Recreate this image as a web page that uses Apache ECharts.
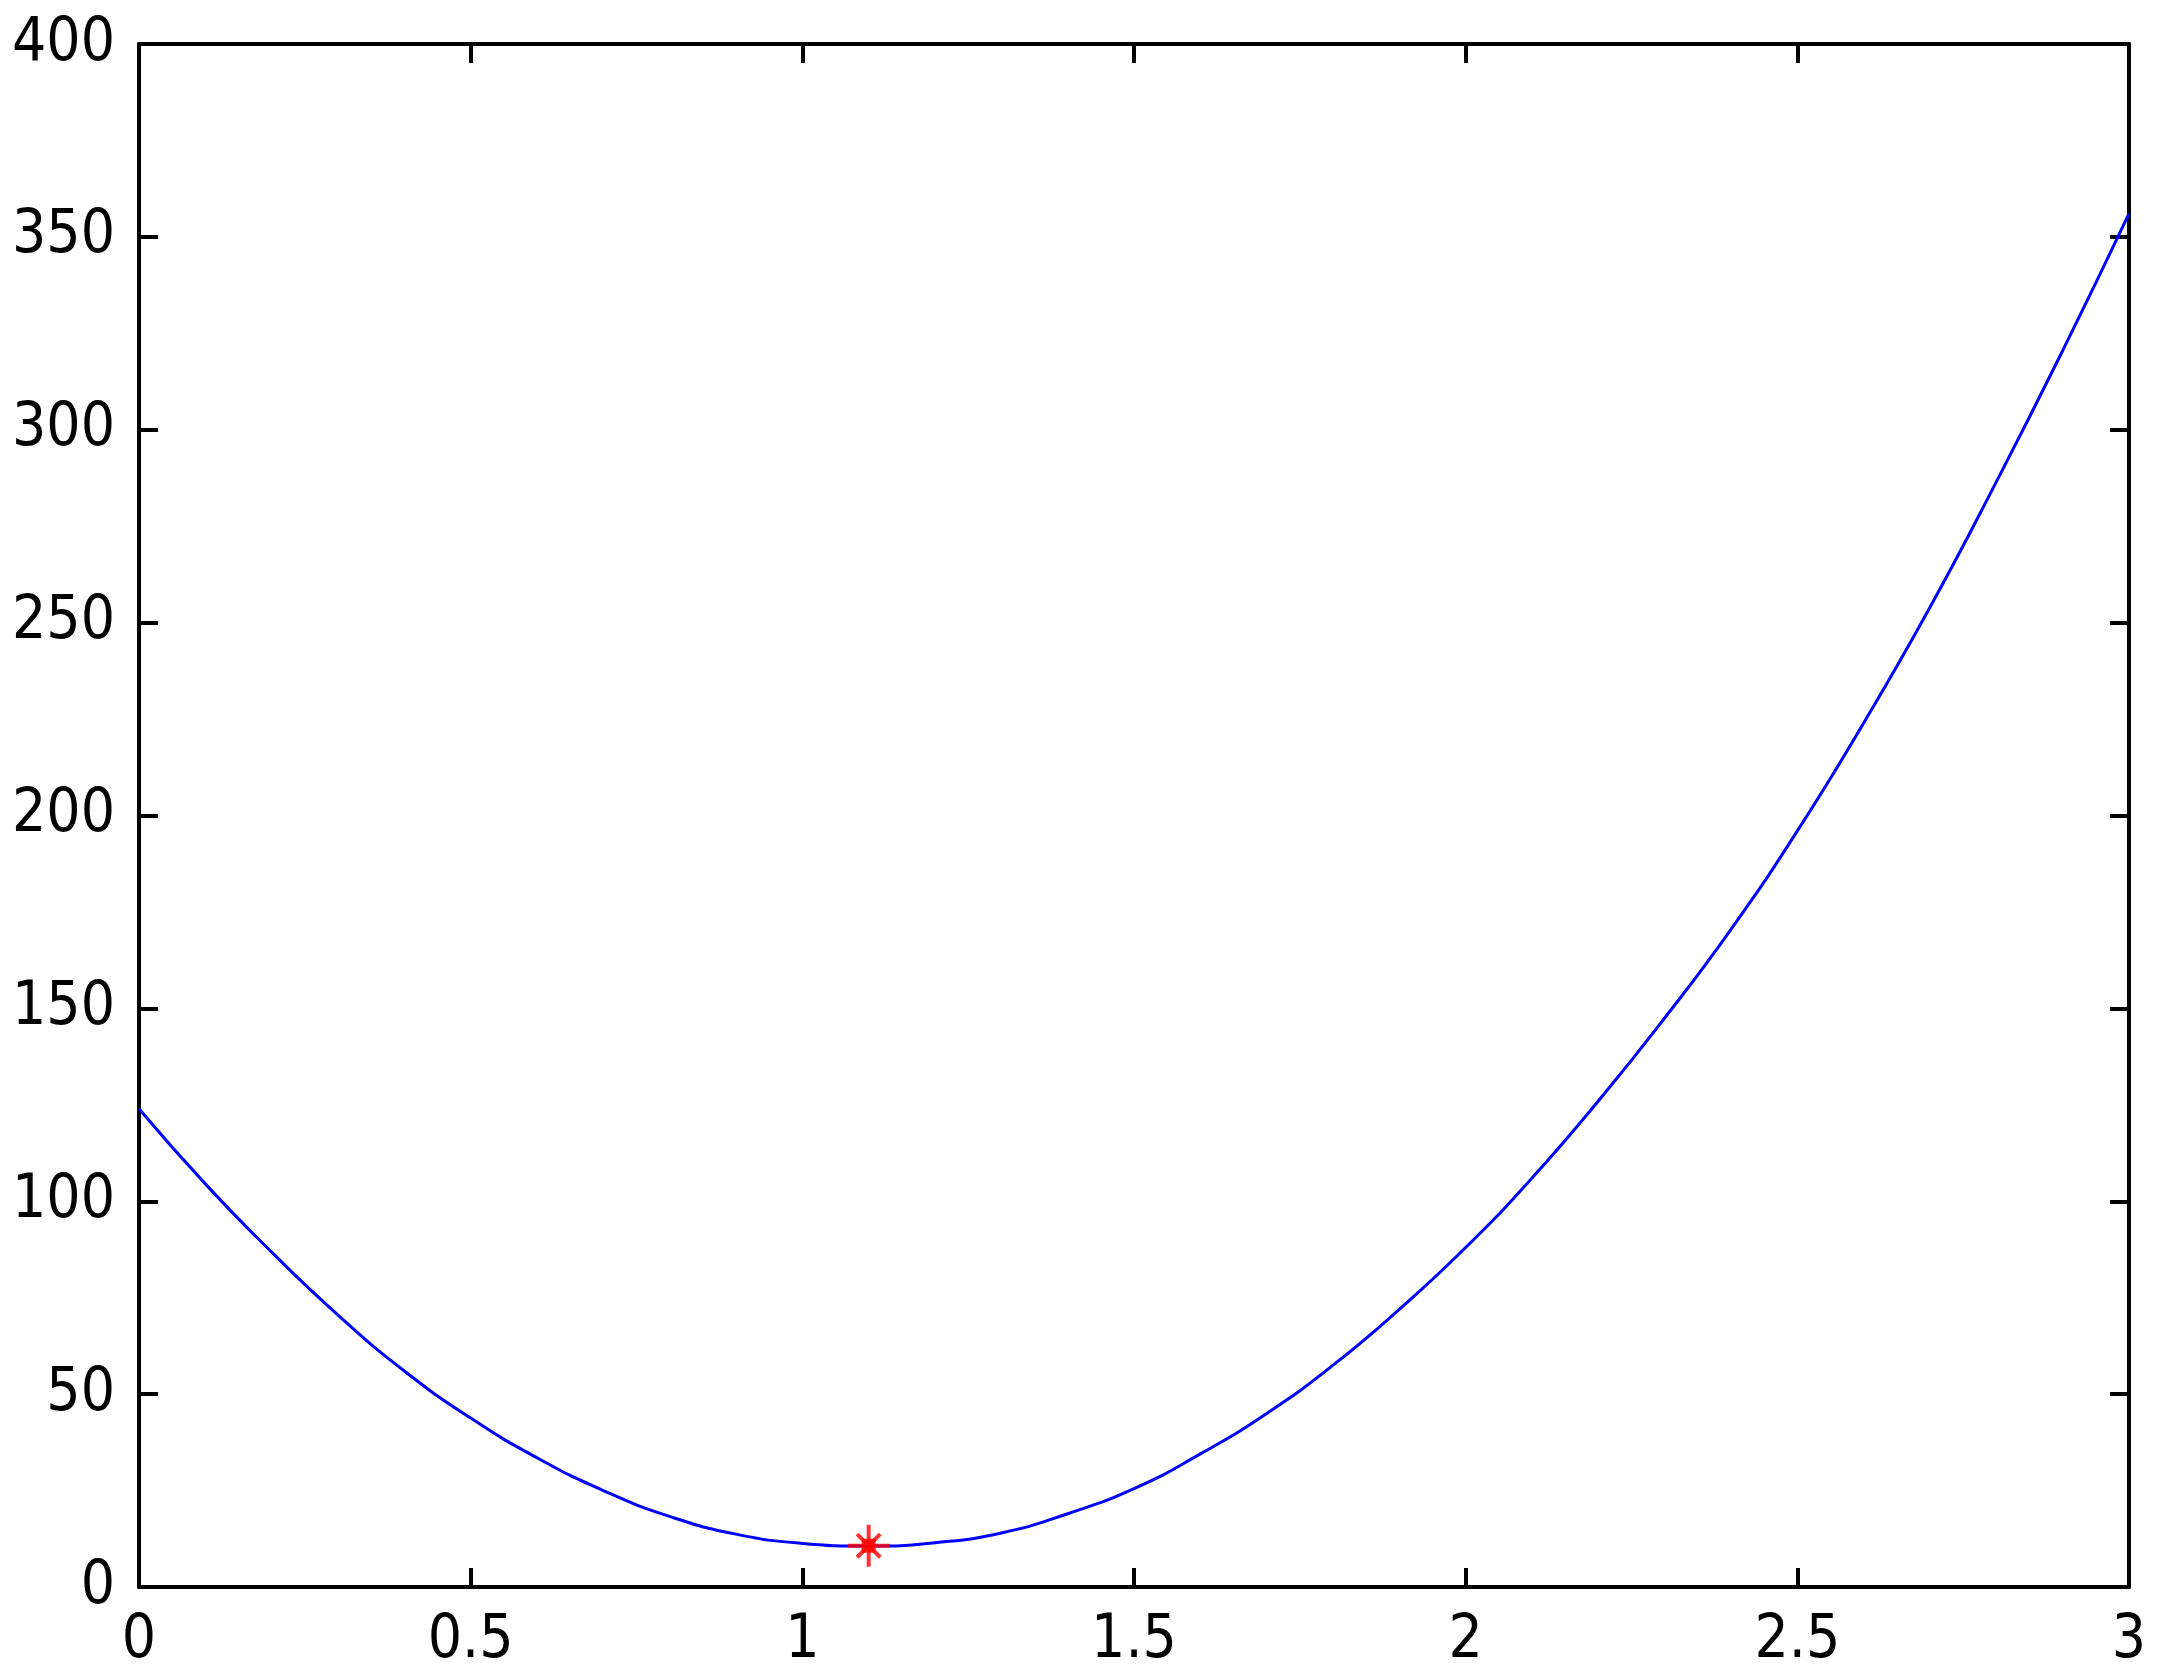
<!DOCTYPE html>
<html>
<head>
<meta charset="utf-8">
<script src="https://cdn.jsdelivr.net/npm/echarts@6/dist/echarts.min.js"></script>
<style>
  html, body { margin: 0; padding: 0; background: #fff; }
  #chart { width: 2157px; height: 1678px; }
</style>
</head>
<body>
<div id="chart"></div>
<script>
// curve samples
const xValues = [0, 0.1, 0.2, 0.3, 0.4, 0.5, 0.6, 0.7, 0.8, 0.9, 1.0,
  1.1, 1.2, 1.3, 1.4, 1.5, 1.6, 1.7, 1.8, 1.9, 2.0,
  2.1, 2.2, 2.3, 2.4, 2.5, 2.6, 2.7, 2.8, 2.9, 3.0]
const yValues = [124, 104.5, 86.8, 70.5, 56, 43.8, 33.5, 25, 18.3, 13.7, 11.3,
  10.6, 11.5, 14, 19, 25.5, 34.5, 45, 57.5, 72, 88,
  106, 126, 147.5, 170.5, 196, 224, 254, 286.5, 320.5, 356]

// minimum marker
const minPoint = [1.1, 10.7]

const xTicks = [0, 0.5, 1, 1.5, 2, 2.5, 3]
const yTicks = [0, 50, 100, 150, 200, 250, 300, 350, 400]

const chart = echarts.init(document.getElementById('chart'))

const labelFont = {
  color: '#000',
  fontFamily: '"Liberation Sans Narrow", "DejaVu Sans Condensed", "Liberation Sans", sans-serif',
  fontSize: 60
}

// frame on all four sides, ticks pointing in
const frameLine = { show: true, onZero: false, lineStyle: { color: '#000', width: 4 } }
const tickStyle = { show: true, inside: true, length: 19, lineStyle: { color: '#000', width: 4 } }

const makeX = (pos, showLabel) => ({
  type: 'value',
  position: pos,
  min: xTicks[0],
  max: xTicks[xTicks.length - 1],
  interval: 0.5,
  axisLine: frameLine,
  axisTick: tickStyle,
  splitLine: { show: false },
  axisLabel: showLabel ? Object.assign({ margin: 24 }, labelFont) : { show: false }
})

const makeY = (pos, showLabel) => ({
  type: 'value',
  position: pos,
  min: yTicks[0],
  max: yTicks[yTicks.length - 1],
  interval: 50,
  axisLine: frameLine,
  axisTick: tickStyle,
  splitLine: { show: false },
  axisLabel: showLabel ? Object.assign({ margin: 24 }, labelFont) : { show: false }
})

const option = {
  animation: false,
  backgroundColor: '#fff',
  grid: {
    left: 139,
    right: 28,
    top: 44,
    bottom: 91,
    containLabel: false
  },
  xAxis: [makeX('bottom', true), makeX('top', false)],
  yAxis: [makeY('left', true), makeY('right', false)],
  series: [
    {
      type: 'line',
      data: xValues.map((x, i) => [x, yValues[i]]),
      smooth: 0.5,
      showSymbol: false,
      lineStyle: { color: '#0000ff', width: 3 },
      z: 2
    },
    {
      type: 'scatter',
      data: [minPoint],
      symbol: 'path://M20,0L20,40M0,20L40,20M9,9L31,31M9,31L31,9',
      symbolSize: 42,
      itemStyle: { color: '#ff0000', borderColor: '#ff0000', borderWidth: 4 },
      z: 3
    },
    {
      type: 'scatter',
      data: [minPoint],
      symbol: 'rect',
      symbolSize: 14,
      itemStyle: { color: '#ff0000' },
      z: 3
    }
  ]
}

chart.setOption(option)
</script>
</body>
</html>
